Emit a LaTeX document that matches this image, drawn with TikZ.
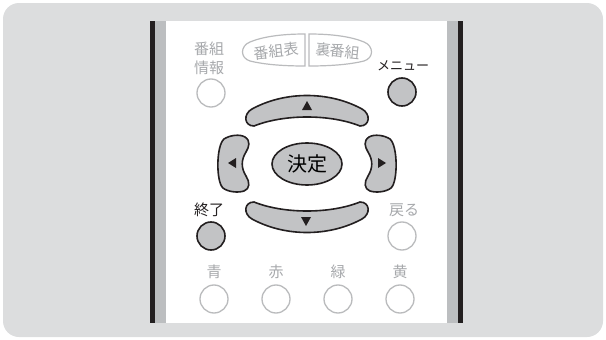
\documentclass[tikz,border=0pt]{standalone}
\usepackage{fontspec}
\newfontfamily\jpfont{Noto Sans CJK JP}
\usepackage{tikz}
\usetikzlibrary{shapes.geometric, positioning}
\definecolor{bggray}{HTML}{DCDDDE}
\definecolor{sidegray}{HTML}{BCBEC0}
\definecolor{keygray}{HTML}{C2C3C5}
\definecolor{inkblack}{HTML}{231F20}
\definecolor{softgray}{HTML}{A7A9AC}
\definecolor{ringgray}{HTML}{BABBBD}

\begin{document}
\begin{tikzpicture}[x=1pt, y=-1pt, every node/.style={inner sep=0pt},
    dimbtn/.style={draw=ringgray, circle, line width=1.3pt, minimum size=28pt},
    litbtn/.style={draw=inkblack, circle, fill=keygray, line width=1.6pt, minimum size=28pt},
    dimlbl/.style={text=softgray, font=\jpfont\fontsize{15}{19}\selectfont},
    litlbl/.style={text=inkblack, font=\jpfont\fontsize{15}{19}\selectfont},
    padkey/.style={draw=inkblack, fill=keygray, line width=1.6pt},
    tabkey/.style={draw=ringgray, line width=1.2pt}]
                \useasboundingbox (0,0) rectangle (606,340);
                \fill[bggray, rounded corners=16pt] (3,3) rectangle (603,337);
                % remote body
                \fill[inkblack] (150,21) rectangle (463,323);
                \fill[sidegray] (155,21) rectangle (458,323);
                \fill[white] (166,21) rectangle (447,323);
                % top row
                \node[dimlbl, align=center] (infolbl) at (209,58) {番組\\情報};
                \node[dimbtn] (info) at (211,93) {};
                \draw[tabkey] (305,34) .. controls (280,34) and (262,37) .. (250,42) .. controls (240,46) and (240,58) .. (250,61) .. controls (262,64) and (280,66) .. (305,66) -- cycle;
                \draw[tabkey] (309,34) .. controls (334,34) and (352,37) .. (364,42) .. controls (374,46) and (374,58) .. (364,61) .. controls (352,64) and (334,66) .. (309,66) -- cycle;
                \node[dimlbl, rotate=6] (guide) at (276,51) {番組表};
                \node[dimlbl, rotate=-6] (backguide) at (338,51) {裏番組};
                \node[litlbl, font=\jpfont\fontsize{13}{16}\selectfont] (menulbl) at (403,66) {メニュー};
                \node[litbtn] (menu) at (402,92) {};
                % cross keys
                \draw[padkey] (252,109) .. controls (285,91) and (329,91) .. (362,109) .. controls (371,114) and (370,126) .. (360,126) .. controls (330,114) and (284,114) .. (254,126) .. controls (244,126) and (243,114) .. (252,109) -- cycle;
                \draw[padkey] (252,219) .. controls (285,237) and (329,237) .. (362,219) .. controls (371,214) and (370,202) .. (360,202) .. controls (330,214) and (284,214) .. (254,202) .. controls (244,202) and (243,214) .. (252,219) -- cycle;
                \draw[padkey] (224,139) .. controls (230,135) and (240,134) .. (245,137) .. controls (251,141) and (249,147) .. (246,152) .. controls (241,160) and (241,168) .. (246,176) .. controls (250,182) and (250,189) .. (244,191) .. controls (238,193) and (228,192) .. (223,188) .. controls (216,182) and (216,146) .. (224,139) -- cycle;
                \draw[padkey] (390,139) .. controls (384,135) and (374,134) .. (369,137) .. controls (363,141) and (365,147) .. (368,152) .. controls (373,160) and (373,168) .. (368,176) .. controls (364,182) and (364,189) .. (370,191) .. controls (376,193) and (386,192) .. (391,188) .. controls (398,182) and (398,146) .. (390,139) -- cycle;
                \fill[inkblack] (302,110) -- (312,110) -- (307,101) -- cycle;
                \fill[inkblack] (301,217) -- (311,217) -- (306,226) -- cycle;
                \fill[inkblack] (236,158) -- (236,168) -- (228,163) -- cycle;
                \fill[inkblack] (378,158) -- (378,168) -- (386,163) -- cycle;
                \node[padkey, ellipse, minimum width=70pt, minimum height=42pt, font=\jpfont\fontsize{20}{24}\selectfont] (enter) at (307,164) {決定};
                % lower keys
                \node[litlbl] (exitlbl) at (209,210) {終了};
                \node[litbtn] (exit) at (211,236) {};
                \node[dimlbl] (returnlbl) at (404,210) {戻る};
                \node[dimbtn] (return) at (402,236) {};
                \node[dimlbl] (bluelbl) at (214,272) {青};
                \node[dimbtn] (blue) at (214,299) {};
                \node[dimlbl] (redlbl) at (276,272) {赤};
                \node[dimbtn] (red) at (276,299) {};
                \node[dimlbl] (greenlbl) at (338,272) {緑};
                \node[dimbtn] (green) at (338,299) {};
                \node[dimlbl] (yellowlbl) at (400,272) {黄};
                \node[dimbtn] (yellow) at (400,299) {};
            \end{tikzpicture}
\end{document}
